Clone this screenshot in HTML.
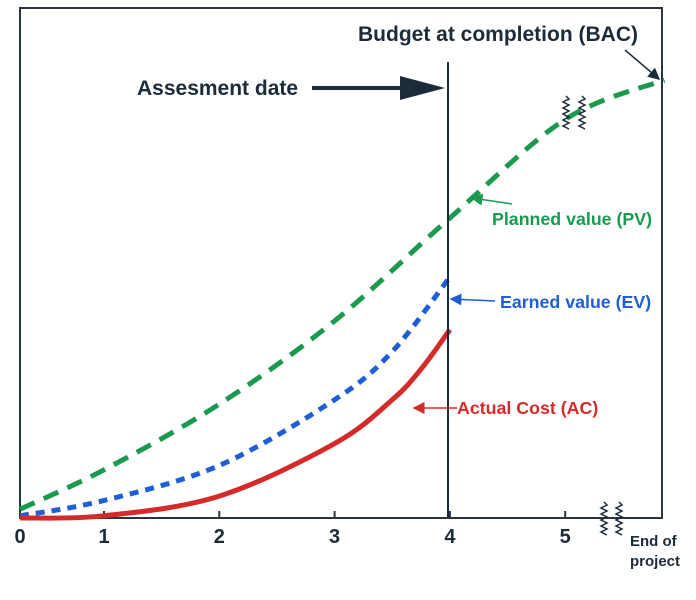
<!DOCTYPE html>
<html><head><meta charset="utf-8"><style>
body{margin:0;background:#fff}
svg{display:block;font-family:"Liberation Sans",sans-serif}
</style></head><body>
<svg id="c" width="696" height="600" viewBox="0 0 696 600">
<defs>
<marker id="ah" markerWidth="8" markerHeight="8" refX="7" refY="4" orient="auto"><path d="M0,0 L8,4 L0,8 z" fill="#1c2b3a"/></marker>
<marker id="ag" markerWidth="8" markerHeight="8" refX="7" refY="4" orient="auto"><path d="M0,0 L8,4 L0,8 z" fill="#1a9a4e"/></marker>
<marker id="ab" markerWidth="8" markerHeight="8" refX="7" refY="4" orient="auto"><path d="M0,0 L8,4 L0,8 z" fill="#1e5fd6"/></marker>
<marker id="ar" markerWidth="8" markerHeight="8" refX="7" refY="4" orient="auto"><path d="M0,0 L8,4 L0,8 z" fill="#d42a2a"/></marker>
</defs>
<rect x="20" y="8" width="642" height="510" fill="none" stroke="#2a3340" stroke-width="2"/>
<g id="ticks"></g>
<g id="series"></g>
<line x1="448" y1="62" x2="448" y2="518" stroke="#1c2b3a" stroke-width="2"/>
<text x="137" y="95" font-size="21" font-weight="bold" fill="#1c2b3a">Assesment date</text>
<line x1="312" y1="88" x2="405" y2="88" stroke="#1c2b3a" stroke-width="4"/>
<polygon points="400,76 445,88 400,100" fill="#1c2b3a"/>
<text x="358" y="41" font-size="21" font-weight="bold" fill="#1c2b3a">Budget at completion (BAC)</text>
<line x1="625" y1="50" x2="659" y2="79" stroke="#1c2b3a" stroke-width="1.5" marker-end="url(#ah)"/>
<text x="492" y="225" font-size="17.8" font-weight="bold" fill="#1a9a4e">Planned value (PV)</text>
<line x1="512" y1="204" x2="472" y2="198" stroke="#1a9a4e" stroke-width="1.5" marker-end="url(#ag)"/>
<text x="500" y="308" font-size="17.8" font-weight="bold" fill="#1e5fd6">Earned value (EV)</text>
<line x1="495" y1="301" x2="451" y2="299" stroke="#1e5fd6" stroke-width="1.5" marker-end="url(#ab)"/>
<text x="457" y="414" font-size="17.8" font-weight="bold" fill="#d42a2a">Actual Cost (AC)</text>
<line x1="457" y1="408" x2="414" y2="408" stroke="#d42a2a" stroke-width="1.5" marker-end="url(#ar)"/>
<g id="breaks" stroke="#1c2b3a" stroke-width="1.5" fill="none"></g>
<text x="630" y="546" font-size="15" font-weight="bold" fill="#1c2b3a">End of</text>
<text x="630" y="566" font-size="15" font-weight="bold" fill="#1c2b3a">project</text>
</svg>
<script>
const tickValues=[0,1,2,3,4,5];
const tickLabels=["0","1","2","3","4","5"];
const pvT=[0,1,2,3,4,5,5.86];
const pvV=[2,11,26,45,68.5,91,100];
const evT=[0,1,2,3,3.5,4];
const evV=[0.5,4,12,27,38,55];
const acT=[0,1,2,3,3.5,3.75,4];
const acV=[0,0.5,5,17,27,34,43];
function xs(t){return t<=1?20+84*t:104+115.3*(t-1);}
function ys(v){return 518-4.38*v;}
const NS="http://www.w3.org/2000/svg";
const tg=document.getElementById('ticks');
tickValues.forEach((t,i)=>{
  const x=xs(t);
  if(t>0){const l=document.createElementNS(NS,'line');
  l.setAttribute('x1',x);l.setAttribute('x2',x);l.setAttribute('y1',511);l.setAttribute('y2',518);
  l.setAttribute('stroke','#2a3340');l.setAttribute('stroke-width',2);
  
  
  tg.appendChild(l);}
  const tx=document.createElementNS(NS,'text');
  tx.setAttribute('x',x);tx.setAttribute('y',543);tx.setAttribute('text-anchor','middle');
  tx.setAttribute('font-size',20);tx.setAttribute('font-weight','bold');tx.setAttribute('fill','#1c2b3a');
  tx.textContent=tickLabels[i];
  
  
  tg.appendChild(tx);
});
function pathD(T,V){
  const p=T.map((t,i)=>[xs(t),ys(V[i])]);
  let d='M'+p[0][0]+','+p[0][1];
  for(let i=0;i<p.length-1;i++){
    const p0=p[Math.max(0,i-1)],p1=p[i],p2=p[i+1],p3=p[Math.min(p.length-1,i+2)];
    const c1=[p1[0]+(p2[0]-p0[0])/6,p1[1]+(p2[1]-p0[1])/6];
    const c2=[p2[0]-(p3[0]-p1[0])/6,p2[1]-(p3[1]-p1[1])/6];
    d+=' C'+c1+' '+c2+' '+p2;
  }
  return d;
}
const sg=document.getElementById('series');
function add(T,V,color,dash,name){
  const p=document.createElementNS(NS,'path');
  p.setAttribute('d',pathD(T,V));p.setAttribute('fill','none');p.setAttribute('stroke',color);
  p.setAttribute('stroke-width',5);if(dash)p.setAttribute('stroke-dasharray',dash);
  
  
  sg.appendChild(p);
}
add(pvT,pvV,'#1a9a4e','16,10','planned-value-line');
add(evT,evV,'#1e5fd6','9,7','earned-value-line');
add(acT,acV,'#d42a2a',null,'actual-cost-line');
const bg=document.getElementById('breaks');
function zig(x,y0,y1){let d='M'+x+','+y0;let s=1;for(let y=y0+3;y<=y1;y+=3){d+=' L'+(x+3*s)+','+y;s=-s;}
  const p=document.createElementNS(NS,'path');p.setAttribute('d',d);
  
  
  bg.appendChild(p);}
zig(566,96,130);zig(582,96,130);zig(604,502,535);zig(619,502,535);
</script>
</body></html>
